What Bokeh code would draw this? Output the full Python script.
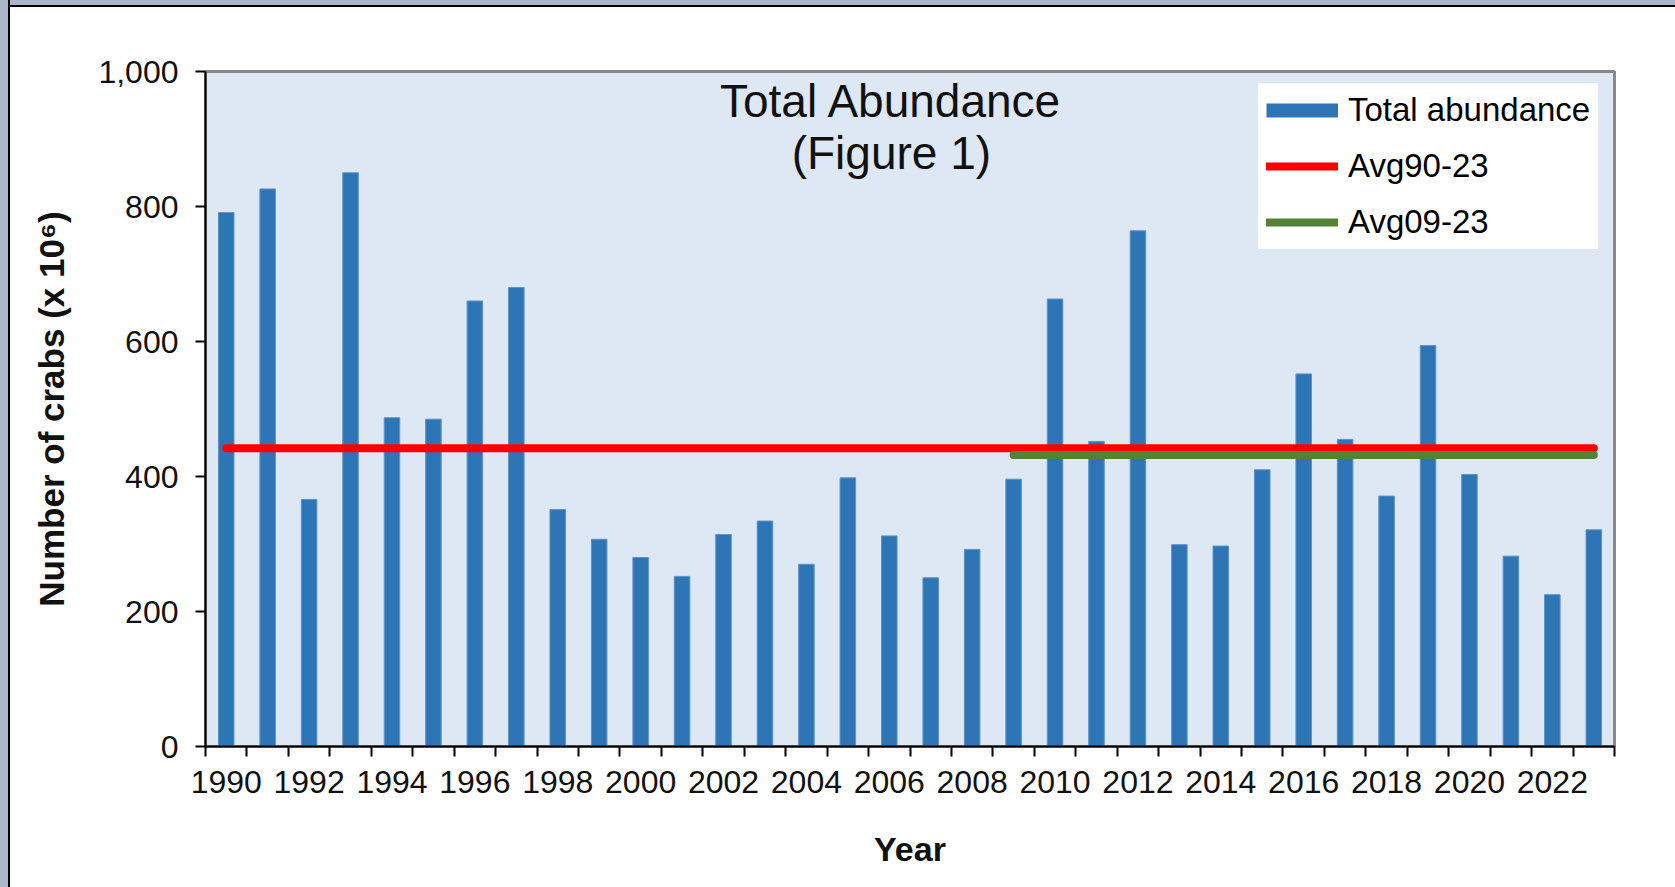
from bokeh.plotting import figure
from bokeh.models import (Range1d, FixedTicker, NumeralTickFormatter,
                          Label, Legend, LegendItem, ColumnDataSource)
from bokeh.embed import file_html
from bokeh.resources import INLINE

# ---- data ----
years = list(range(1990, 2024))
abundance = [791, 826, 366, 850, 487, 485, 660, 680, 351, 307,
             280, 252, 314, 334, 270, 398, 312, 250, 292, 396,
             663, 452, 764, 299, 297, 410, 552, 455, 371, 594,
             403, 282, 225, 321]
avg90_23 = 442
avg09_23 = 432
avg09_start = 2009
y_ticks = [0, 200, 400, 600, 800, 1000]
x_label_years = years[::2]
x_label_text = [str(y) for y in x_label_years]

FONT = "Liberation Sans"
BAR = "#2e75b6"
BG = "#dee8f4"
FRAME_BG = "#aab6ca"

p = figure(width=1675, height=887, output_backend="svg", toolbar_location=None,
           x_range=Range1d(years[0] - 0.5, years[-1] + 0.5),
           y_range=Range1d(y_ticks[0], y_ticks[-1]),
           min_border_left=205, min_border_right=61,
           min_border_top=71, min_border_bottom=141,
           background_fill_color=BG, border_fill_color=None)
p.styles = {"background": (
    f"linear-gradient(to right, {FRAME_BG} 0px, {FRAME_BG} 8px, #000 8px, #000 10px, transparent 10px), "
    f"linear-gradient(to bottom, {FRAME_BG} 0px, {FRAME_BG} 5px, #000 5px, #000 7px, #ffffff 7px)")}
p.grid.visible = False
p.outline_line_color = "#898989"
p.outline_line_width = 3

# bars
src = ColumnDataSource(dict(x=years, top=abundance))
p.vbar(x="x", top="top", width=0.375, source=src, fill_color=BAR,
       line_color="#5d93c8", line_width=1)

# average lines
red = p.line(x=[years[0], years[-1]], y=[avg90_23, avg90_23],
             line_color="#ff0000", line_width=8, line_cap="round")
green = p.line(x=[avg09_start, years[-1]], y=[avg09_23, avg09_23],
               line_color="#548235", line_width=8, line_cap="round")

# legend proxy for bars (no visible data)
nan = float("nan")
bar_proxy = p.line(x=[nan, nan], y=[nan, nan], line_color=BAR, line_width=14,
                   line_cap="butt")

legend = Legend(items=[LegendItem(label="Total abundance", renderers=[bar_proxy]),
                       LegendItem(label="Avg90-23", renderers=[red]),
                       LegendItem(label="Avg09-23", renderers=[green])],
                location=(1053, 497), orientation="vertical",
                background_fill_color="white", background_fill_alpha=1.0,
                border_line_alpha=0, padding=8, spacing=18,
                glyph_width=72, glyph_height=30, label_height=30,
                label_standoff=10, margin=0,
                label_text_font=FONT, label_text_font_size="33px",
                label_text_color="black")
p.add_layout(legend, "center")

# y axis
ya = p.yaxis[0]
ya.ticker = FixedTicker(ticks=y_ticks)
ya.formatter = NumeralTickFormatter(format="0,0")
ya.minor_tick_line_color = None
ya.major_tick_out = 10
ya.major_tick_in = 0
ya.major_tick_line_color = "black"
ya.major_tick_line_width = 2
ya.axis_line_color = "black"
ya.axis_line_width = 2
ya.major_label_standoff = 17
ya.major_label_text_font = FONT
ya.major_label_text_font_size = "32px"
ya.major_label_text_color = "#111111"
ya.axis_label = "Number of crabs (x 10\u2076)"
ya.axis_label_text_font = FONT
ya.axis_label_text_font_style = "bold"
ya.axis_label_text_font_size = "35px"
ya.axis_label_text_color = "#111111"
ya.axis_label_standoff = 24

# x axis: labels under even years, tick marks at year boundaries (minor ticks)
xa = p.xaxis[0]
xa.ticker = FixedTicker(ticks=x_label_years,
                        minor_ticks=[y - 0.5 for y in years] + [years[-1] + 0.5])
xa.major_label_overrides = {y: t for y, t in zip(x_label_years, x_label_text)}
xa.major_tick_line_color = None
xa.major_tick_out = 10
xa.major_tick_in = 0
xa.minor_tick_line_color = "black"
xa.minor_tick_line_width = 2
xa.minor_tick_out = 10
xa.minor_tick_in = 0
xa.axis_line_color = "black"
xa.axis_line_width = 2
xa.major_label_standoff = 14
xa.major_label_text_font = FONT
xa.major_label_text_font_size = "32px"
xa.major_label_text_color = "#111111"
xa.axis_label = "Year"
xa.axis_label_text_font = FONT
xa.axis_label_text_font_style = "bold"
xa.axis_label_text_font_size = "34px"
xa.axis_label_text_color = "#111111"
xa.axis_label_standoff = 34

# title inside plot
p.add_layout(Label(x=2006.05, y=957, text="Total Abundance", text_align="center",
                   text_baseline="middle", text_font=FONT,
                   text_font_size="46px", text_color="#111111"))
p.add_layout(Label(x=2006.05, y=879, text="(Figure 1)", text_align="center",
                   text_baseline="middle", text_font=FONT,
                   text_font_size="46px", text_color="#111111"))

open("out.html", "w").write(file_html(p, INLINE))
